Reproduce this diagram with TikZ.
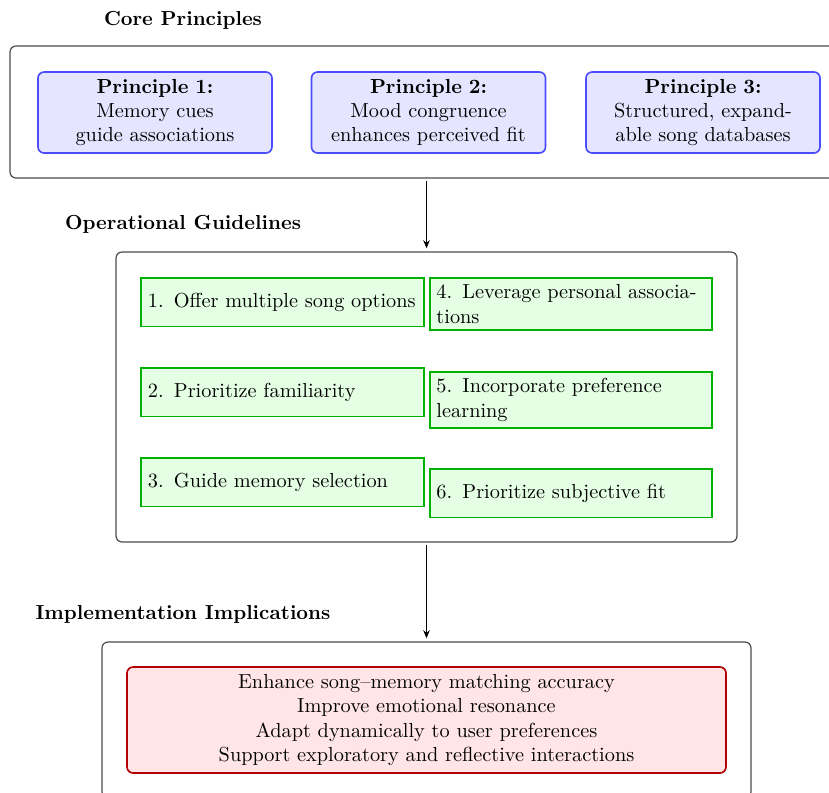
\documentclass[tikz,border=0pt]{standalone}
\usetikzlibrary{arrows.meta}
\begin{document}
\begin{tikzpicture}[x=0.4925pt,y=-0.4925pt,
  frame/.style={draw=black!70, semithick, rounded corners=3pt},
  titletext/.style={font=\bfseries},
  principle/.style={draw=blue!70, fill=blue!10, thick, rounded corners=3pt, text width=3.4cm, align=center, minimum width=234*0.4925pt, minimum height=81*0.4925pt},
  guide/.style={draw=green!70!black, fill=green!10, thick, text width=132.5pt, align=left, minimum height=24pt, anchor=north},
  impl/.style={draw=red!70!black, fill=red!10, thick, rounded corners=3pt, align=center, minimum width=599*0.4925pt, minimum height=106*0.4925pt},
  flow/.style={-{Stealth[length=4pt,width=3.2pt]}, semithick, shorten <=1pt, shorten >=1.5pt}]
\useasboundingbox (0,0) rectangle (829,792);
\clip (0,0) rectangle (829,792);

% Core principles
\node[titletext] (t1) at (183,20) {Core Principles};
\node[frame, minimum width=837*0.4925pt, minimum height=132*0.4925pt] (core) at (428.5,112) {};
\node[principle] (p1) at (155,112.5) {\textbf{Principle 1:}\\Memory cues\\guide associations};
\node[principle] (p2) at (428.5,112.5) {\textbf{Principle 2:}\\Mood congruence\\enhances perceived fit};
\node[principle] (p3) at (703,112.5) {\textbf{Principle 3:}\\Structured, expandable song databases};

% Operational guidelines
\node[titletext] (t2) at (183,224) {Operational Guidelines};
\node[frame, minimum width=621*0.4925pt, minimum height=290*0.4925pt] (ops) at (426.5,397) {};
\node[guide] (g1) at (282.5,277) {1. Offer multiple song options};
\node[guide] (g2) at (282.5,367) {2. Prioritize familiarity};
\node[guide] (g3) at (282.5,457) {3. Guide memory selection};
\node[guide] (g4) at (571,277) {4. Leverage personal associations};
\node[guide] (g5) at (571,371) {5. Incorporate preference learning};
\node[guide] (g6) at (571,468) {6. Prioritize subjective fit};

% Implementation implications
\node[titletext] (t3) at (183,614) {Implementation Implications};
\node[frame, minimum width=649*0.4925pt, minimum height=156*0.4925pt] (impl) at (426.5,720) {};
\node[impl] (r1) at (426.5,720) {Enhance song--memory matching accuracy\\Improve emotional resonance\\Adapt dynamically to user preferences\\Support exploratory and reflective interactions};

% Connectors
\draw[flow] (core.south -| ops.north) -- (ops.north);
\draw[flow] (ops.south) -- (impl.north);
\end{tikzpicture}
\end{document}
